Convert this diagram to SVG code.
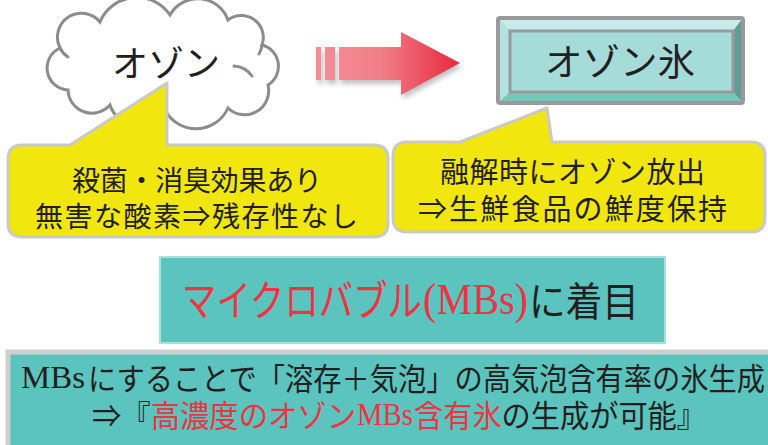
<svg xmlns="http://www.w3.org/2000/svg" width="768" height="445" viewBox="0 0 768 445">
<defs>
<style>
.jp{font-family:"Noto Sans CJK JP","Noto Sans",sans-serif;fill:#231f20}
.ser{font-family:"Liberation Serif",serif;fill:#231f20}
.red{fill:#ee3342}
.callout{fill:#f1e70f;stroke:#c9c9c9;stroke-width:3;stroke-linejoin:round}
.teal{fill:#5bc4be}
.cl{fill:none;stroke:#8c8c8c;stroke-width:3;stroke-linecap:round}
</style>
<linearGradient id="arrowGrad" x1="316" y1="0" x2="460" y2="0" gradientUnits="userSpaceOnUse">
<stop offset="0" stop-color="#f58d97"/>
<stop offset="0.45" stop-color="#f07f89"/>
<stop offset="1" stop-color="#e8283c"/>
</linearGradient>
<filter id="shadow" x="-20%" y="-30%" width="140%" height="160%">
<feGaussianBlur stdDeviation="2.5"/>
</filter>
</defs>

<rect width="768" height="445" fill="#ffffff"/>

<g id="cloud">
<path d="M68,90 A22,22 0 0 1 60,48 A24,24 0 0 1 100,22 A40,40 0 0 1 170,15 A32,32 0 0 1 228,20 A22,22 0 0 1 262,45 A22,22 0 0 1 268,85 A24,24 0 0 1 228,108 A35,35 0 0 1 165,110 A30,30 0 0 1 110,105 A24,24 0 0 1 68,90 Z" fill="#ffffff" stroke="#8c8c8c" stroke-width="3"/>
<path class="cl" d="M60,48 A22,22 0 0 0 68,57"/>
<path class="cl" d="M262,45 A20,20 0 0 1 259,54"/>
<path class="cl" d="M234,66 A24,24 0 0 1 252,76"/>
<text class="jp" x="166" y="77" font-size="36" text-anchor="middle">オゾン</text>
</g>

<g id="arrow">
<g filter="url(#shadow)" opacity="0.45" transform="translate(2,4)">
<rect x="316" y="47" width="5" height="33" fill="#777"/>
<rect x="325" y="47" width="10" height="33" fill="#777"/>
<path d="M339,47 H401 V32 L460,63 L401,95 V80 H339 Z" fill="#777"/>
</g>
<rect x="316" y="47" width="5" height="33" fill="url(#arrowGrad)"/>
<rect x="325" y="47" width="10" height="33" fill="url(#arrowGrad)"/>
<path d="M339,47 H401 V32 L460,63 L401,95 V80 H339 Z" fill="url(#arrowGrad)"/>
</g>

<g id="ice">
<rect x="498" y="18" width="245" height="85" rx="2" fill="#a5dbd8"/>
<path d="M498,18 L743,18 L733,31 L510,31 Z" fill="#c6ebe8"/>
<path d="M498,18 L510,31 L510,92 L498,103 Z" fill="#b3e2df"/>
<path d="M743,18 L743,103 L733,92 L733,31 Z" fill="#5f9e95"/>
<path d="M498,103 L510,92 L733,92 L743,103 Z" fill="#78c6ba"/>
<rect x="498" y="18" width="245" height="85" rx="2" fill="none" stroke="#98999b" stroke-width="4"/>
<rect x="510" y="31" width="223" height="61" fill="none" stroke="#98999b" stroke-width="3"/>
<text class="jp" x="545" y="76" font-size="37" textLength="150" lengthAdjust="spacingAndGlyphs">オゾン氷</text>
</g>

<g id="callout1">
<path class="callout" d="M22,145 H70 L167,83 V145 H374 Q388,145 388,159 V223 Q388,237 374,237 H22 Q8,237 8,223 V159 Q8,145 22,145 Z"/>
<text class="jp" x="72" y="191" font-size="28" textLength="250">殺菌・消臭効果あり</text>
<text class="jp" x="35" y="227" font-size="28" textLength="323">無害な酸素⇒残存性なし</text>
</g>

<g id="callout2">
<path class="callout" d="M407,142 H460 L547,108 L552,142 H751 Q765,142 765,156 V218 Q765,232 751,232 H407 Q393,232 393,218 V156 Q393,142 407,142 Z"/>
<text class="jp" x="440" y="183" font-size="29" textLength="265">融解時にオゾン放出</text>
<text class="jp" x="418" y="220" font-size="29" textLength="309">⇒生鮮食品の鮮度保持</text>
</g>

<g id="mbs">
<rect class="teal" x="160" y="257" width="505" height="86" stroke="#a8e0dc" stroke-width="2"/>
<text class="jp red" x="182" y="316" font-size="42" textLength="240" lengthAdjust="spacingAndGlyphs">マイクロバブル</text>
<text class="ser red" x="423" y="314" font-size="44" textLength="105" lengthAdjust="spacingAndGlyphs">(MBs)</text>
<text class="jp" x="529" y="316" font-size="40" textLength="110" lengthAdjust="spacingAndGlyphs">に着目</text>
</g>

<g id="summary">
<rect class="teal" x="8" y="352" width="780" height="100" stroke="#cfcfcf" stroke-width="5"/>
<text class="ser" x="21" y="388" font-size="32" textLength="64" lengthAdjust="spacingAndGlyphs">MBs</text>
<text class="jp" x="88" y="390" font-size="31" textLength="677" lengthAdjust="spacingAndGlyphs">にすることで「溶存＋気泡」の高気泡含有率の氷生成</text>
<text class="jp" x="92" y="427" font-size="31" textLength="264" lengthAdjust="spacingAndGlyphs">⇒『<tspan class="red">高濃度のオゾン</tspan></text>
<text class="ser red" x="357" y="425" font-size="32" textLength="56" lengthAdjust="spacingAndGlyphs">MBs</text>
<text class="jp" x="414" y="427" font-size="31" textLength="292" lengthAdjust="spacingAndGlyphs"><tspan class="red">含有氷</tspan>の生成が可能』</text>
</g>
</svg>
